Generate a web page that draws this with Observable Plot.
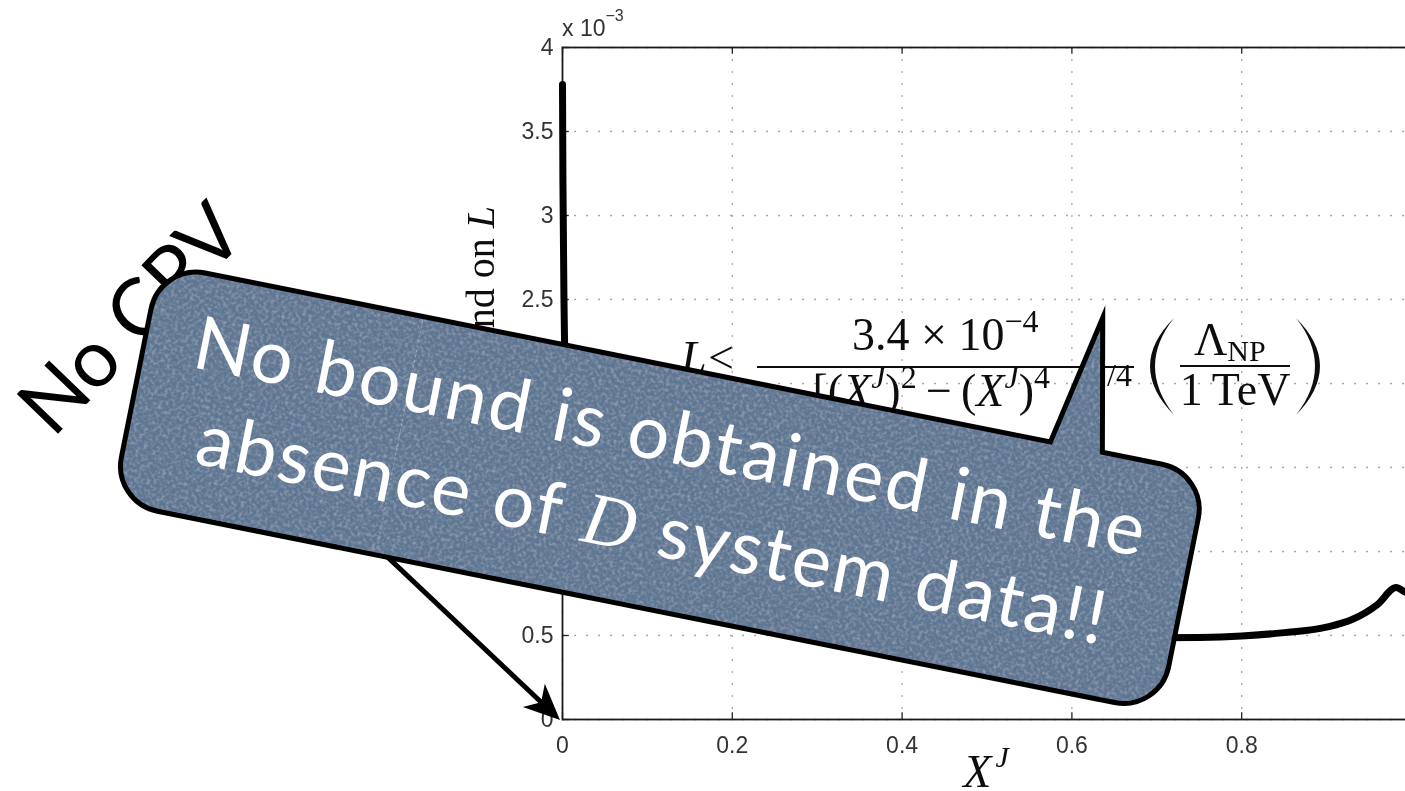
<!DOCTYPE html>
<html>
<head>
<meta charset="utf-8">
<script src="https://cdn.jsdelivr.net/npm/d3@7"></script>
<script src="https://cdn.jsdelivr.net/npm/@observablehq/plot@0.6"></script>
<style>
  html, body { margin: 0; padding: 0; background: #fff; overflow: hidden; }
  #stage { position: relative; width: 1405px; height: 791px; overflow: hidden; }
  #stage > svg { position: absolute; left: 0; top: 0; max-width: none; }
</style>
</head>
<body>
<div id="stage"></div>
<script>
// Upper bound on L as a function of X^J (L in units of 1e-3)
const xj    = [0, 0.0005, 0.002, 0.005, 0.01, 0.02, 0.04, 0.07, 0.1, 0.15, 0.2, 0.3, 0.4, 0.5, 0.6, 0.7, 0.75, 0.8, 0.85, 0.9, 0.93, 0.96, 0.982, 0.992, 1.0];
const bound = [3.78, 3.2, 2.4, 1.8, 1.45, 1.15, 0.95, 0.82, 0.75, 0.67, 0.62, 0.55, 0.515, 0.498, 0.49, 0.486, 0.488, 0.497, 0.517, 0.55, 0.595, 0.685, 0.786, 0.76, 0.745];
const xTicks = [0, 0.2, 0.4, 0.6, 0.8, 1];
const yTicks = [0, 0.5, 1, 1.5, 2, 2.5, 3, 3.5, 4];

const xLabel = "X";
const xLabelSup = "J";
const yLabel = "Upper bound on ";
const yLabelVar = "L";
const scaleNote = "x 10";
const scaleExp = "\u22123";

const calloutLines = ["No bound is obtained in the", ["absence of ", "D", " system data!!"]];
const sideNote = "No CPV";

const rows = xj.map((x, i) => ({x, y: bound[i]}));
const fmt = d => String(d);

const chart = Plot.plot({
  width: 1420,
  height: 791,
  marginLeft: 562,
  marginRight: 9,
  marginTop: 47,
  marginBottom: 72,
  x: {domain: [0, 1]},
  y: {domain: [0, 4]},
  style: {fontFamily: "'Liberation Sans', Arial, sans-serif", fontSize: "23px", color: "#2a2a2a", background: "transparent", overflow: "visible", maxWidth: "none"},
  marks: [
    Plot.gridX(xTicks, {stroke: "#9a9a9a", strokeOpacity: 0.85, strokeWidth: 1.3, strokeDasharray: "2,10"}),
    Plot.gridY(yTicks, {stroke: "#9a9a9a", strokeOpacity: 0.85, strokeWidth: 1.3, strokeDasharray: "2,10"}),
    Plot.ruleX(xTicks, {y1: 0, y2: 0.04, stroke: "#222", strokeWidth: 1.3}),
    Plot.ruleX(xTicks, {y1: 4, y2: 3.96, stroke: "#222", strokeWidth: 1.3}),
    Plot.ruleY(yTicks, {x1: 0, x2: 0.008, stroke: "#222", strokeWidth: 1.3}),
    Plot.frame({stroke: "#1a1a1a", strokeWidth: 1.8}),
    Plot.line(rows, {x: "x", y: "y", stroke: "#000", strokeWidth: 7, curve: "monotone-x"}),
    Plot.axisX(xTicks, {tickSize: 0, tickPadding: 17, label: null, fill: "#333", tickFormat: fmt}),
    Plot.axisY(yTicks, {tickSize: 0, tickPadding: 9, label: null, fill: "#333", tickFormat: fmt})
  ]
});
chart.style.filter = "blur(0.6px)";
chart.style.maxWidth = "none";
const stage = document.getElementById("stage");
stage.appendChild(chart);

// Annotation layer: axis titles, formula, arrow, callout
const NS = "http://www.w3.org/2000/svg";
const svg = d3.select(stage).append("svg")
  .attr("xmlns", NS)
  .attr("width", 1405).attr("height", 791);

const defs = svg.append("defs");
defs.append("filter").attr("id", "soft").append("feGaussianBlur").attr("stdDeviation", 0.55);
const grain = defs.append("filter").attr("id", "grain")
  .attr("x", "0%").attr("y", "0%").attr("width", "100%").attr("height", "100%");
grain.append("feTurbulence").attr("type", "fractalNoise").attr("baseFrequency", 0.3)
  .attr("numOctaves", 4).attr("seed", 7).attr("result", "noise");
grain.append("feColorMatrix").attr("in", "noise").attr("type", "matrix")
  .attr("values", "0 0 0 0 1  0 0 0 0 1  0 0 0 0 1  0.5 0 0 0 -0.22").attr("result", "light");
grain.append("feColorMatrix").attr("in", "noise").attr("type", "matrix")
  .attr("values", "0 0 0 0 0.15  0 0 0 0 0.2  0 0 0 0 0.3  -0.5 0 0 0 0.27").attr("result", "dark");
const merge = grain.append("feMerge").attr("result", "merged");
merge.append("feMergeNode").attr("in", "SourceGraphic");
merge.append("feMergeNode").attr("in", "light");
merge.append("feMergeNode").attr("in", "dark");
grain.append("feGaussianBlur").attr("in", "merged").attr("stdDeviation", 0.5).attr("result", "smooth");
grain.append("feComposite").attr("in", "smooth").attr("in2", "SourceGraphic").attr("operator", "in");

const serif = "'Liberation Serif', 'DejaVu Serif', serif";

// Figure texts (soft, like the plot)
const fig = svg.append("g").attr("filter", "url(#soft)").attr("fill", "#111");

// scale note above the y axis
const sn = fig.append("text").attr("x", 562).attr("y", 36)
  .attr("font-family", "'Liberation Sans', Arial, sans-serif").attr("font-size", 23).attr("fill", "#333");
sn.append("tspan").text(scaleNote);
sn.append("tspan").attr("font-size", 16).attr("dy", -15).text(scaleExp);

// y axis title
const yt = fig.append("text").attr("transform", "translate(494,206) rotate(-90)")
  .attr("text-anchor", "end").attr("font-family", serif).attr("font-size", 40);
yt.append("tspan").text(yLabel);
yt.append("tspan").attr("font-style", "italic").text(yLabelVar);

// x axis title
const xt = fig.append("text").attr("x", 986).attr("y", 787).attr("text-anchor", "middle")
  .attr("font-family", serif).attr("font-size", 46);
xt.append("tspan").attr("font-style", "italic").text(xLabel);
xt.append("tspan").attr("font-style", "italic").attr("font-size", 30).attr("dy", -20).attr("dx", 4).text(xLabelSup);

// formula: L < 3.4e-4 / [(X^J)^2 - (X^J)^4]^(1/4) * (Lambda_NP / 1 TeV)
const fm = fig.append("g").attr("font-family", serif).attr("font-size", 46);
fm.append("text").attr("x", 681).attr("y", 373).attr("font-style", "italic").text("L");
fm.append("text").attr("x", 708).attr("y", 373).text("<");
const num = fm.append("text").attr("x", 852).attr("y", 350);
num.append("tspan").text("3.4 \u00d7 10");
num.append("tspan").attr("font-size", 32).attr("dy", -18).text("\u22124");
fm.append("line").attr("x1", 757).attr("x2", 1134).attr("y1", 367).attr("y2", 367)
  .attr("stroke", "#111").attr("stroke-width", 2);
const den = fm.append("text").attr("x", 1050).attr("y", 406).attr("text-anchor", "end");
den.append("tspan").text("[(");
den.append("tspan").attr("font-style", "italic").text("X");
den.append("tspan").attr("font-style", "italic").attr("font-size", 32).attr("dy", -18).text("J");
den.append("tspan").attr("dy", 18).text(")");
den.append("tspan").attr("font-size", 32).attr("dy", -18).text("2");
den.append("tspan").attr("dy", 18).text("\u2009\u2212\u2009(");
den.append("tspan").attr("font-style", "italic").text("X");
den.append("tspan").attr("font-style", "italic").attr("font-size", 32).attr("dy", -18).text("J");
den.append("tspan").attr("dy", 18).text(")");
den.append("tspan").attr("font-size", 32).attr("dy", -18).text("4");
const denTail = fm.append("text").attr("x", 1132).attr("y", 406).attr("text-anchor", "end");
denTail.append("tspan").text("]");
denTail.append("tspan").attr("font-size", 32).attr("dy", -20).text("1/4");
// large parentheses
fm.append("path").attr("d", "M1174,318 Q1126,366 1174,415 Q1136,366 1174,318 Z").attr("fill", "#111");
fm.append("path").attr("d", "M1296,318 Q1344,366 1296,415 Q1334,366 1296,318 Z").attr("fill", "#111");
const lam = fm.append("text").attr("x", 1194).attr("y", 355);
lam.append("tspan").text("\u039b");
lam.append("tspan").attr("font-size", 30).attr("dy", 6).text("NP");
fm.append("line").attr("x1", 1180).attr("x2", 1290).attr("y1", 366).attr("y2", 366)
  .attr("stroke", "#111").attr("stroke-width", 2);
fm.append("text").attr("x", 1235).attr("y", 405).attr("text-anchor", "middle").text("1\u2009TeV");

// side note, rotated
svg.append("text").attr("transform", "translate(53,439) rotate(-46)")
  .attr("font-family", "Lato, 'Open Sans', sans-serif").attr("font-size", 80).attr("fill", "#000")
  .text(sideNote);

// arrow pointing at the origin
const tip = [560, 720];
const u = [0.727, 0.687], n = [-0.687, 0.727];
const start = [tip[0] - 300 * u[0], tip[1] - 300 * u[1]];
svg.append("line").attr("x1", start[0]).attr("y1", start[1])
  .attr("x2", tip[0] - 20 * u[0]).attr("y2", tip[1] - 20 * u[1])
  .attr("stroke", "#000").attr("stroke-width", 5);
const hl = 36, hw = 16, notch = 26;
const pt = (a, b) => [tip[0] - a * u[0] + b * n[0], tip[1] - a * u[1] + b * n[1]];
svg.append("path").attr("d", "M" + [tip, pt(hl, hw), pt(notch, 0), pt(hl, -hw)].map(p => p.join(",")).join("L") + "Z")
  .attr("fill", "#000");

// callout bubble
const W = 1068, H = 243, r = 46;
const bubble = `M${r},0 H908 L935,-132 L961,0 H${W - r} A${r},${r} 0 0 1 ${W},${r} V${H - r} A${r},${r} 0 0 1 ${W - r},${H} H${r} A${r},${r} 0 0 1 0,${H - r} V${r} A${r},${r} 0 0 1 ${r},0 Z`;
const cb = svg.append("g").attr("transform", "translate(160,264) rotate(11.3)");
cb.append("path").attr("d", bubble).attr("fill", "#5b7492").attr("filter", "url(#grain)");
cb.append("line").attr("x1", 268.5).attr("x2", 268.5).attr("y1", 4).attr("y2", H - 4)
  .attr("stroke", "rgba(255,255,255,0.35)").attr("stroke-width", 0.8).attr("stroke-dasharray", "3,2");
cb.append("path").attr("d", bubble).attr("fill", "none").attr("stroke", "#000")
  .attr("stroke-width", 5).attr("stroke-linejoin", "miter").attr("stroke-miterlimit", 10);

const tx = cb.append("g").attr("font-family", "Lato, 'Open Sans', sans-serif").attr("font-size", 74)
  .attr("fill", "#fff").attr("text-anchor", "middle");
tx.append("text").attr("x", 534).attr("y", 95).attr("textLength", 968).attr("lengthAdjust", "spacing")
  .text(calloutLines[0]);
const l2 = tx.append("text").attr("x", 534).attr("y", 189).attr("textLength", 925).attr("lengthAdjust", "spacing");
l2.append("tspan").text(calloutLines[1][0]);
l2.append("tspan").attr("font-family", serif).attr("font-style", "italic").text(calloutLines[1][1]);
l2.append("tspan").text(calloutLines[1][2]);
</script>
</body>
</html>
